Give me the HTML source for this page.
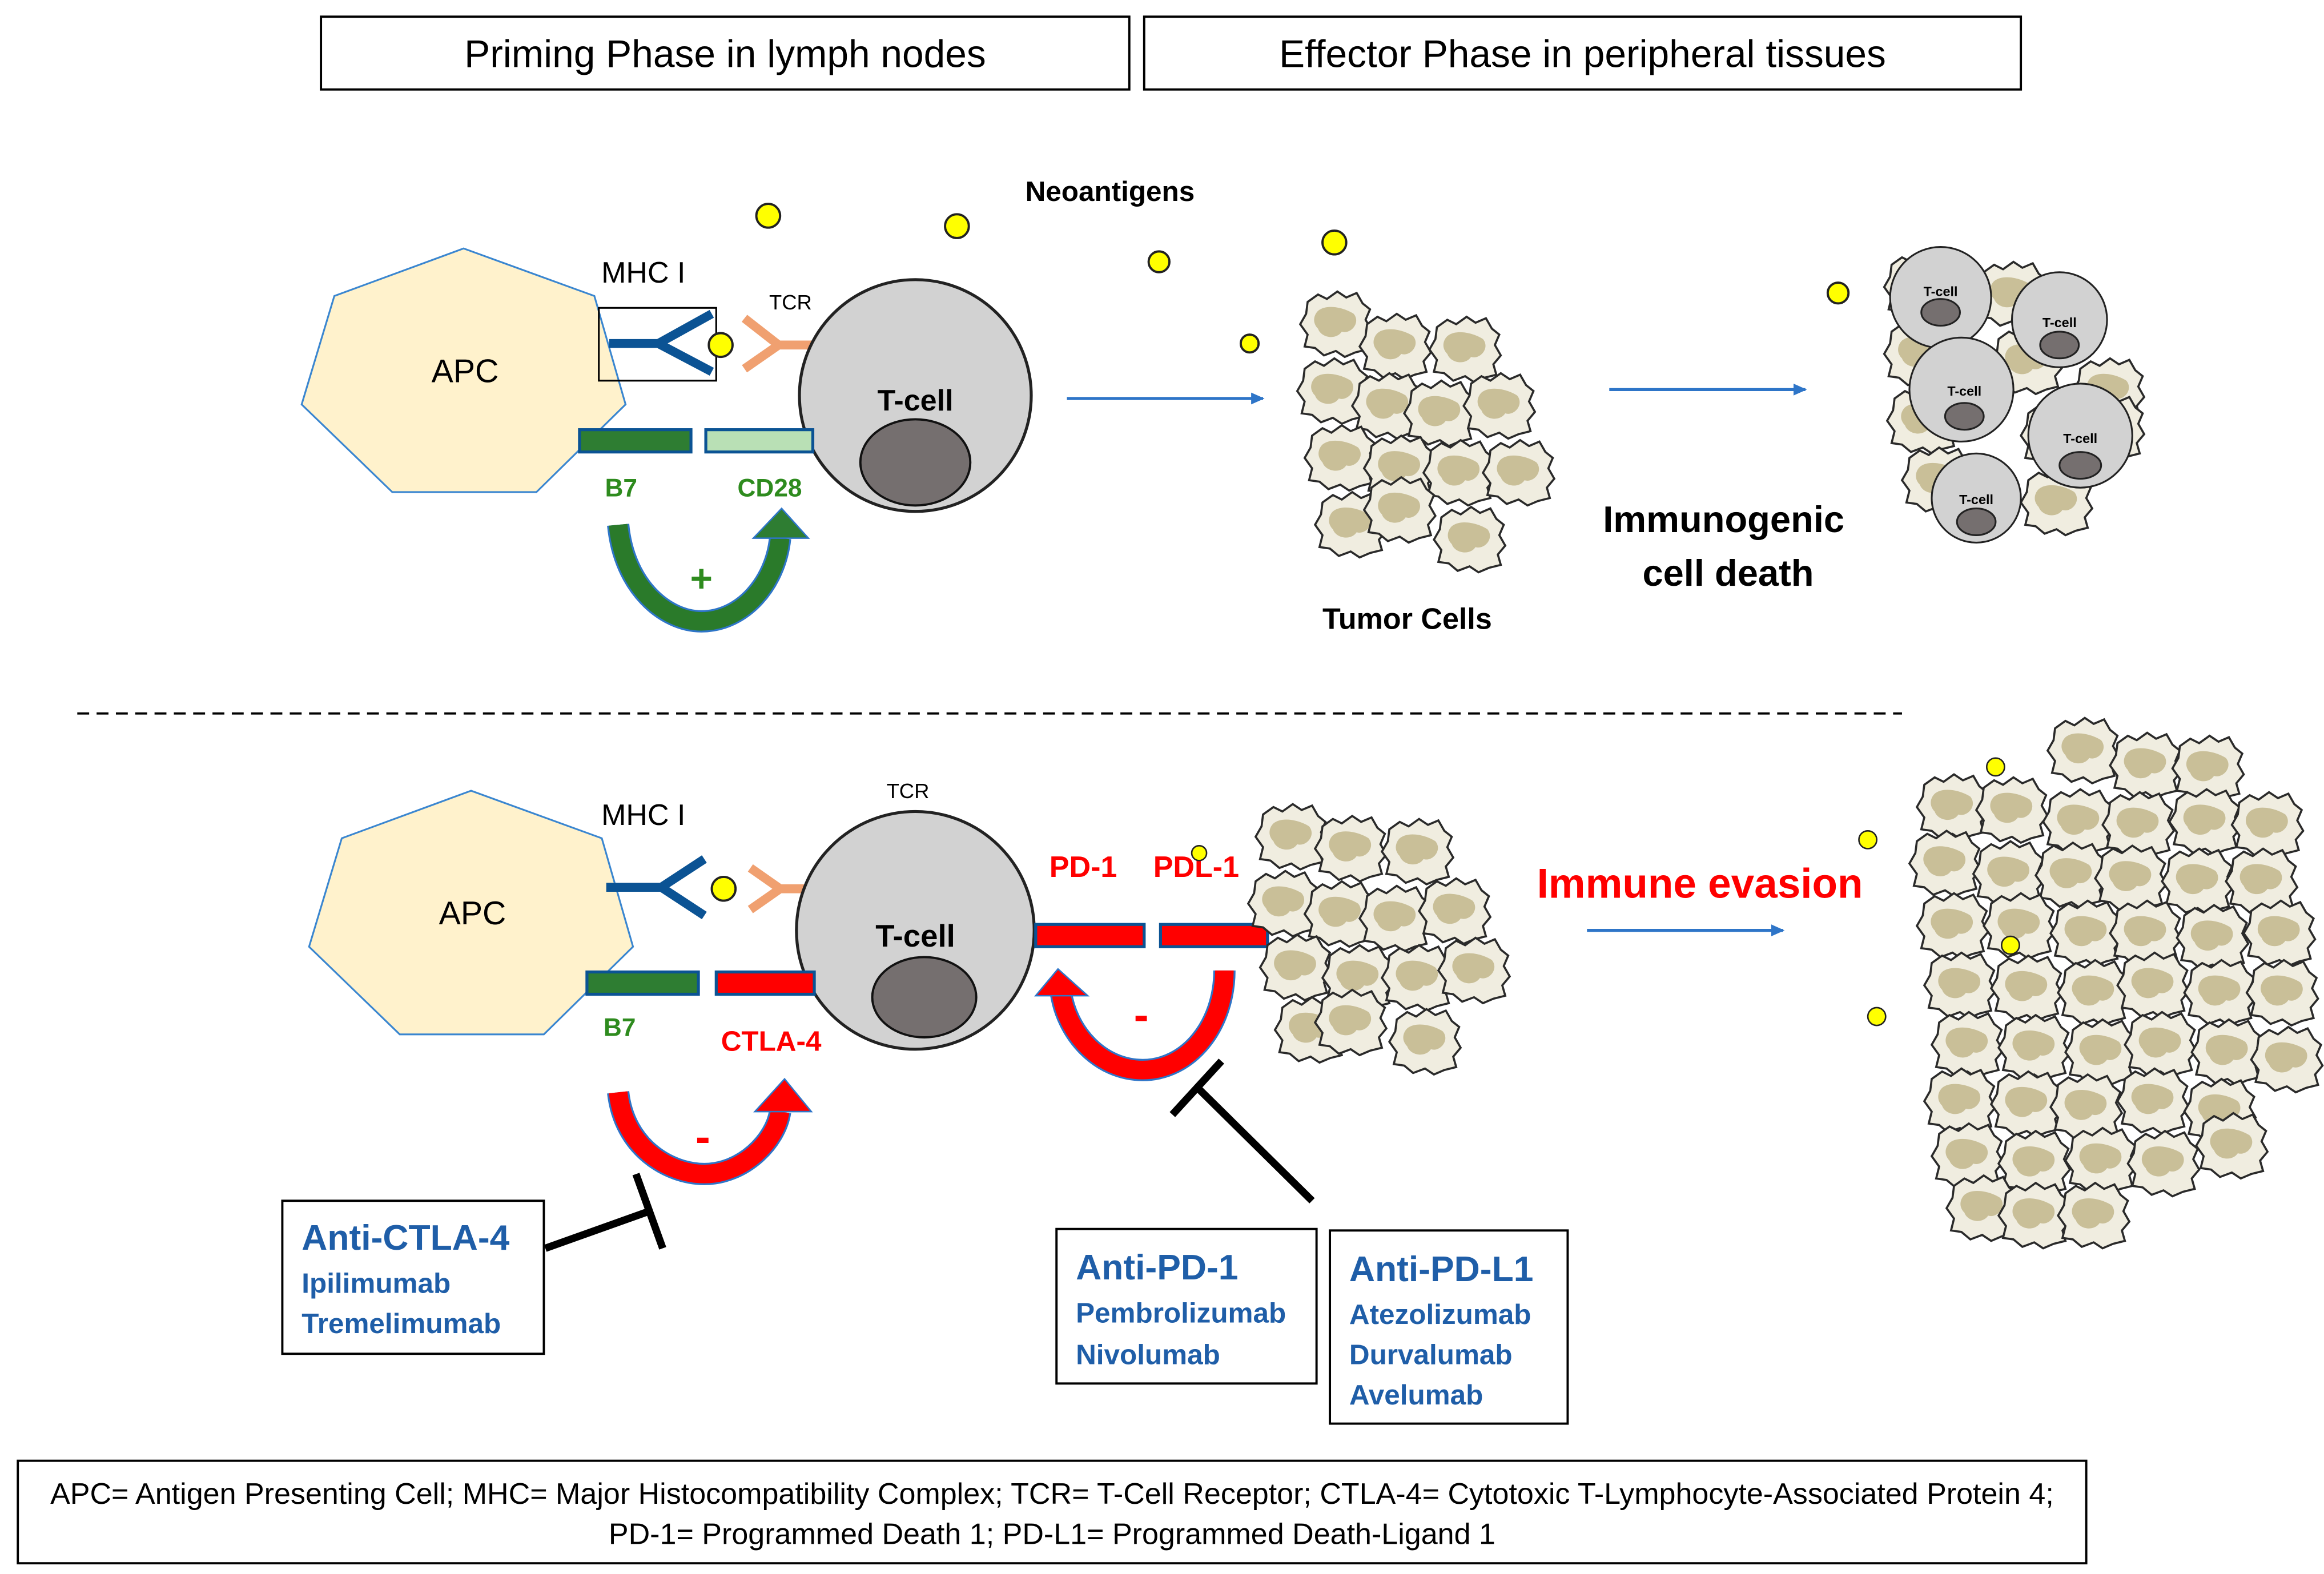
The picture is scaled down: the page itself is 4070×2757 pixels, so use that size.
<!DOCTYPE html>
<html><head><meta charset="utf-8"><style>
html,body{margin:0;padding:0;background:#fff;}
svg{display:block;}
text{font-family:"Liberation Sans",Arial,sans-serif;}
</style></head><body>
<svg width="4070" height="2757" viewBox="0 0 1564 1059" xmlns="http://www.w3.org/2000/svg">
<defs>
<g id="tc">
<path d="M5,8 L12,3 L18,6 L25,1 L31,5 L38,2 L42,9 L47,13 L44,20 L48,27 L43,33 L45,40 L37,42 L30,45 L24,41 L16,44 L10,39 L3,38 L5,30 L0,23 L4,16 Z" fill="#f0ede0" stroke="#2a2a2a" stroke-width="1.4"/>
<path d="M12,14 C18,9 30,12 36,16 C41,22 34,30 28,28 C24,34 14,32 12,26 C8,22 9,17 12,14 Z" fill="#c9bf98"/>
</g>
<marker id="ab" markerWidth="10" markerHeight="10" refX="8" refY="5" orient="auto" markerUnits="userSpaceOnUse"><path d="M0,1 L9,5 L0,9 Z" fill="#2e75c8"/></marker>
</defs>
<rect width="1564" height="1059" fill="#fff"/>

<!-- headers -->
<rect x="216" y="11" width="544" height="49" fill="#fff" stroke="#000" stroke-width="1.5"/>
<text x="488" y="45" font-size="26" text-anchor="middle">Priming Phase in lymph nodes</text>
<rect x="770" y="11" width="590" height="49" fill="#fff" stroke="#000" stroke-width="1.5"/>
<text x="1065" y="45" font-size="26" text-anchor="middle">Effector Phase in peripheral tissues</text>

<!-- TOP -->
<polygon points="312,167 400,199 421,272 361,331 264,331 203,272 225,199" fill="#fff2cc" stroke="#3a86d0" stroke-width="1.2"/>
<text x="313" y="257" font-size="22" text-anchor="middle">APC</text>
<text x="433" y="190" font-size="20" text-anchor="middle">MHC I</text>
<rect x="403" y="207" width="79" height="49" fill="none" stroke="#000" stroke-width="1.2"/>
<path d="M410,231 L443,231 M443,231 L479,211 M443,231 L479,250" stroke="#0b5394" stroke-width="6" fill="none"/>
<circle cx="485" cy="232" r="8" fill="#ffff00" stroke="#222" stroke-width="1.5"/>
<path d="M548,232 L524,232 L501,214 M524,232 L501,248" stroke="#f0a070" stroke-width="6" fill="none"/>
<text x="532" y="208" font-size="14" text-anchor="middle">TCR</text>
<circle cx="616" cy="266" r="78" fill="#d2d2d2" stroke="#222" stroke-width="2"/>
<text x="616" y="276" font-size="20" font-weight="bold" text-anchor="middle">T-cell</text>
<ellipse cx="616" cy="311" rx="37" ry="29" fill="#756f6f" stroke="#111" stroke-width="1.5"/>
<rect x="390" y="289" width="75" height="15" fill="#2e7d32" stroke="#0b5394" stroke-width="2"/>
<rect x="475" y="289" width="72" height="15" fill="#b9e0b5" stroke="#0b5394" stroke-width="2"/>
<text x="418" y="334" font-size="17" font-weight="bold" fill="#2e8b1e" text-anchor="middle">B7</text>
<text x="518" y="334" font-size="17" font-weight="bold" fill="#2e8b1e" text-anchor="middle">CD28</text>
<path d="M416,353 C420,395 448,418 472,418 C500,418 522,392 525,362" stroke="#2e75c8" stroke-width="15" fill="none"/>
<path d="M416,353 C420,395 448,418 472,418 C500,418 522,392 525,362" stroke="#2a7a2a" stroke-width="12.5" fill="none"/>
<polygon points="507,362 526,342 544,362" fill="#2e7d32" stroke="#2e75c8"/>
<text x="472" y="398" font-size="26" font-weight="bold" fill="#2e8b1e" text-anchor="middle">+</text>

<text x="747" y="135" font-size="19" font-weight="bold" text-anchor="middle">Neoantigens</text>
<g fill="#ffff00" stroke="#222" stroke-width="1.5"><circle cx="517" cy="145" r="8"/><circle cx="644" cy="152" r="8"/><circle cx="780" cy="176" r="7"/><circle cx="898" cy="163" r="8"/><circle cx="841" cy="231" r="6"/><circle cx="1237" cy="197" r="7"/></g>

<line x1="718" y1="268" x2="850" y2="268" stroke="#2e75c8" stroke-width="2" marker-end="url(#ab)"/>
<line x1="1083" y1="262" x2="1215" y2="262" stroke="#2e75c8" stroke-width="2" marker-end="url(#ab)"/>

<use href="#tc" x="875" y="195"/><use href="#tc" x="915" y="210"/><use href="#tc" x="962" y="212"/>
<use href="#tc" x="873" y="240"/><use href="#tc" x="910" y="250"/><use href="#tc" x="945" y="255"/><use href="#tc" x="985" y="250"/>
<use href="#tc" x="878" y="285"/><use href="#tc" x="918" y="292"/><use href="#tc" x="958" y="295"/><use href="#tc" x="998" y="295"/>
<use href="#tc" x="885" y="330"/><use href="#tc" x="918" y="320"/><use href="#tc" x="965" y="340"/>
<text x="947" y="423" font-size="20" font-weight="bold" text-anchor="middle">Tumor Cells</text>
<text x="1160" y="358" font-size="25" font-weight="bold" text-anchor="middle">Immunogenic</text>
<text x="1163" y="394" font-size="25" font-weight="bold" text-anchor="middle">cell death</text>

<use href="#tc" x="1268" y="170"/><use href="#tc" x="1330" y="175"/><use href="#tc" x="1268" y="215"/><use href="#tc" x="1340" y="220"/><use href="#tc" x="1395" y="240"/><use href="#tc" x="1270" y="260"/><use href="#tc" x="1360" y="270"/><use href="#tc" x="1280" y="300"/><use href="#tc" x="1360" y="315"/><use href="#tc" x="1395" y="265"/>
<g stroke="#222" stroke-width="1.2">
<circle cx="1306" cy="200" r="34" fill="#d2d2d2"/><ellipse cx="1306" cy="210" rx="13" ry="9" fill="#756f6f"/>
<circle cx="1386" cy="215" r="32" fill="#d2d2d2"/><ellipse cx="1386" cy="232" rx="13" ry="9" fill="#756f6f"/>
<circle cx="1320" cy="262" r="35" fill="#d2d2d2"/><ellipse cx="1322" cy="280" rx="13" ry="9" fill="#756f6f"/>
<circle cx="1400" cy="293" r="35" fill="#d2d2d2"/><ellipse cx="1400" cy="313" rx="14" ry="9" fill="#756f6f"/>
<circle cx="1330" cy="335" r="30" fill="#d2d2d2"/><ellipse cx="1330" cy="351" rx="13" ry="9" fill="#756f6f"/>
</g>
<g font-size="9" font-weight="bold" text-anchor="middle">
<text x="1306" y="199">T-cell</text><text x="1386" y="220">T-cell</text><text x="1322" y="266">T-cell</text><text x="1400" y="298">T-cell</text><text x="1330" y="339">T-cell</text></g>

<line x1="52" y1="480" x2="1280" y2="480" stroke="#000" stroke-width="1.5" stroke-dasharray="8,5"/>

<!-- BOTTOM -->
<polygon points="317,532 405,564 426,637 366,696 269,696 208,637 230,564" fill="#fff2cc" stroke="#3a86d0" stroke-width="1.2"/>
<text x="318" y="622" font-size="22" text-anchor="middle">APC</text>
<text x="433" y="555" font-size="20" text-anchor="middle">MHC I</text>
<path d="M408,597 L445,597 M445,597 L474,578 M445,597 L474,616" stroke="#0b5394" stroke-width="6" fill="none"/>
<circle cx="487" cy="598" r="8" fill="#ffff00" stroke="#222" stroke-width="1.5"/>
<path d="M547,598 L525,598 L505,584 M525,598 L505,612" stroke="#f0a070" stroke-width="6" fill="none"/>
<text x="611" y="537" font-size="14" text-anchor="middle">TCR</text>
<circle cx="616" cy="626" r="80" fill="#d2d2d2" stroke="#222" stroke-width="2"/>
<text x="616" y="637" font-size="21" font-weight="bold" text-anchor="middle">T-cell</text>
<ellipse cx="622" cy="671" rx="35" ry="27" fill="#756f6f" stroke="#111" stroke-width="1.5"/>
<rect x="395" y="654" width="75" height="15" fill="#2e7d32" stroke="#0b5394" stroke-width="2"/>
<rect x="482" y="654" width="66" height="15" fill="#ff0000" stroke="#0b5394" stroke-width="2"/>
<text x="417" y="697" font-size="17" font-weight="bold" fill="#2e8b1e" text-anchor="middle">B7</text>
<text x="519" y="707" font-size="19" font-weight="bold" fill="#ff0000" text-anchor="middle">CTLA-4</text>
<path d="M416,735 C420,772 450,790 474,790 C500,790 522,768 525,748" stroke="#2e75c8" stroke-width="15" fill="none"/>
<path d="M416,735 C420,772 450,790 474,790 C500,790 522,768 525,748" stroke="#ff0000" stroke-width="12.5" fill="none"/>
<polygon points="508,748 528,726 546,748" fill="#ff0000" stroke="#2e75c8"/>
<text x="473" y="775" font-size="30" font-weight="bold" fill="#ff0000" text-anchor="middle">-</text>

<rect x="697" y="622" width="73" height="15" fill="#ff0000" stroke="#0b5394" stroke-width="2"/>
<rect x="781" y="622" width="72" height="15" fill="#ff0000" stroke="#0b5394" stroke-width="2"/>
<text x="729" y="590" font-size="20" font-weight="bold" fill="#ff0000" text-anchor="middle">PD-1</text>
<text x="805" y="590" font-size="20" font-weight="bold" fill="#ff0000" text-anchor="middle">PDL-1</text>
<path d="M824,653 C824,690 800,720 769,720 C740,720 718,695 714,668" stroke="#2e75c8" stroke-width="15" fill="none"/>
<path d="M824,653 C824,690 800,720 769,720 C740,720 718,695 714,668" stroke="#ff0000" stroke-width="12.5" fill="none"/>
<polygon points="697,670 712,652 732,670" fill="#ff0000" stroke="#2e75c8"/>
<text x="768" y="693" font-size="30" font-weight="bold" fill="#ff0000" text-anchor="middle">-</text>

<use href="#tc" x="845" y="540"/><use href="#tc" x="885" y="548"/><use href="#tc" x="930" y="550"/>
<use href="#tc" x="840" y="585"/><use href="#tc" x="878" y="592"/><use href="#tc" x="915" y="595"/><use href="#tc" x="955" y="590"/>
<use href="#tc" x="848" y="628"/><use href="#tc" x="890" y="635"/><use href="#tc" x="930" y="635"/><use href="#tc" x="968" y="630"/>
<use href="#tc" x="858" y="670"/><use href="#tc" x="885" y="665"/><use href="#tc" x="935" y="678"/>
<circle cx="807" cy="574" r="5" fill="#ffff00" stroke="#222"/>

<text x="1144" y="604" font-size="28" font-weight="bold" fill="#ff0000" text-anchor="middle">Immune evasion</text>
<line x1="1068" y1="626" x2="1200" y2="626" stroke="#2e75c8" stroke-width="2" marker-end="url(#ab)"/>

<use href="#tc" x="1378" y="482"/><use href="#tc" x="1420" y="492"/><use href="#tc" x="1462" y="494"/>
<use href="#tc" x="1290" y="520"/><use href="#tc" x="1330" y="522"/><use href="#tc" x="1375" y="530"/><use href="#tc" x="1415" y="532"/><use href="#tc" x="1460" y="530"/><use href="#tc" x="1502" y="532"/>
<use href="#tc" x="1285" y="558"/><use href="#tc" x="1328" y="565"/><use href="#tc" x="1370" y="566"/><use href="#tc" x="1410" y="568"/><use href="#tc" x="1455" y="570"/><use href="#tc" x="1498" y="570"/>
<use href="#tc" x="1290" y="600"/><use href="#tc" x="1335" y="600"/><use href="#tc" x="1380" y="605"/><use href="#tc" x="1420" y="605"/><use href="#tc" x="1465" y="608"/><use href="#tc" x="1510" y="605"/>
<use href="#tc" x="1295" y="640"/><use href="#tc" x="1340" y="642"/><use href="#tc" x="1385" y="645"/><use href="#tc" x="1425" y="640"/><use href="#tc" x="1470" y="645"/><use href="#tc" x="1512" y="645"/>
<use href="#tc" x="1300" y="680"/><use href="#tc" x="1345" y="682"/><use href="#tc" x="1390" y="685"/><use href="#tc" x="1430" y="680"/><use href="#tc" x="1475" y="685"/><use href="#tc" x="1515" y="690"/>
<use href="#tc" x="1295" y="718"/><use href="#tc" x="1340" y="720"/><use href="#tc" x="1380" y="722"/><use href="#tc" x="1425" y="718"/><use href="#tc" x="1470" y="725"/>
<use href="#tc" x="1300" y="755"/><use href="#tc" x="1345" y="760"/><use href="#tc" x="1390" y="758"/><use href="#tc" x="1432" y="760"/><use href="#tc" x="1478" y="748"/>
<use href="#tc" x="1310" y="790"/><use href="#tc" x="1345" y="795"/><use href="#tc" x="1385" y="795"/>
<g fill="#ffff00" stroke="#222"><circle cx="1343" cy="516" r="6"/><circle cx="1257" cy="565" r="6"/><circle cx="1353" cy="636" r="6"/><circle cx="1263" cy="684" r="6"/></g>

<!-- inhibitors -->
<line x1="367" y1="840" x2="437" y2="815" stroke="#000" stroke-width="5"/>
<line x1="428" y1="790" x2="446" y2="840" stroke="#000" stroke-width="5"/>
<line x1="883" y1="808" x2="806" y2="732" stroke="#000" stroke-width="5"/>
<line x1="789" y1="750" x2="822" y2="714" stroke="#000" stroke-width="5"/>

<g fill="#1f5ea8" font-weight="bold">
<rect x="190" y="808" width="176" height="103" fill="#fff" stroke="#000" stroke-width="1.5"/>
<text x="203" y="841" font-size="24">Anti-CTLA-4</text>
<text x="203" y="870" font-size="19">Ipilimumab</text>
<text x="203" y="897" font-size="19">Tremelimumab</text>
<rect x="711" y="827" width="175" height="104" fill="#fff" stroke="#000" stroke-width="1.5"/>
<text x="724" y="861" font-size="24">Anti-PD-1</text>
<text x="724" y="890" font-size="19">Pembrolizumab</text>
<text x="724" y="918" font-size="19">Nivolumab</text>
<rect x="895" y="828" width="160" height="130" fill="#fff" stroke="#000" stroke-width="1.5"/>
<text x="908" y="862" font-size="24">Anti-PD-L1</text>
<text x="908" y="891" font-size="19">Atezolizumab</text>
<text x="908" y="918" font-size="19">Durvalumab</text>
<text x="908" y="945" font-size="19">Avelumab</text>
</g>

<rect x="12" y="983" width="1392" height="69" fill="#fff" stroke="#000" stroke-width="1.5"/>
<text x="708" y="1012" font-size="20" text-anchor="middle">APC= Antigen Presenting Cell; MHC= Major Histocompatibility Complex; TCR= T-Cell Receptor; CTLA-4= Cytotoxic T-Lymphocyte-Associated Protein 4;</text>
<text x="708" y="1039" font-size="20" text-anchor="middle">PD-1= Programmed Death 1;  PD-L1= Programmed Death-Ligand 1</text>
</svg>
</body></html>
